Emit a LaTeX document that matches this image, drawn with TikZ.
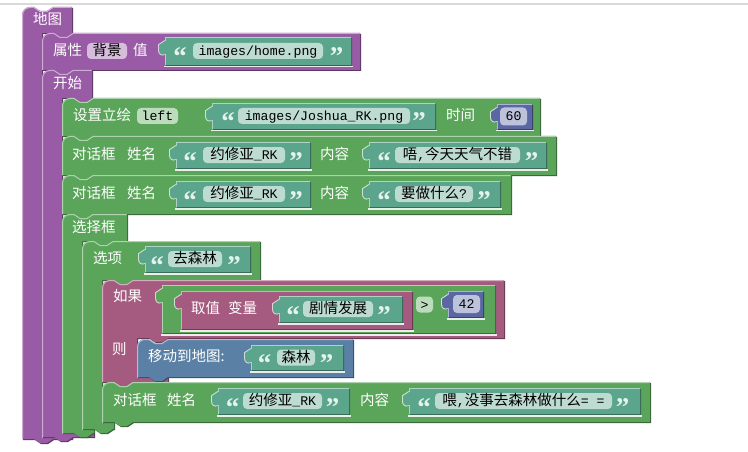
\documentclass[tikz,border=0pt]{standalone}
\usepackage{fontspec}
\setmainfont{Noto Sans CJK SC}
\newfontfamily\mono{Liberation Mono}
\newfontfamily\qf{Liberation Serif}
\newcommand\monot[1]{{\mono\fontsize{13.2}{16}\selectfont #1}}
\definecolor{pu}{HTML}{995BA5}
\definecolor{gr}{HTML}{5BA55B}
\definecolor{te}{HTML}{5BA58C}
\definecolor{ma}{HTML}{A55B80}
\definecolor{bl}{HTML}{5B80A5}
\definecolor{nb}{HTML}{5B67A5}
\definecolor{qc}{HTML}{E4F2EC}
% statement block: x y right bottom style
\newcommand\SBpath[5]{\path[#5] (#1,#2+8) .. controls (#1,#2+3.6) and (#1+3.6,#2) .. (#1+8,#2) -- (#1+12,#2) -- (#1+18,#2+4) -- (#1+25,#2+4) -- (#1+31,#2) -- (#3,#2) -- (#3,#4) -- (#1+31,#4) -- (#1+25,#4+4) -- (#1+18,#4+4) -- (#1+12,#4) -- (#1,#4) -- cycle;}
\newcommand\SB[5]{%
  \SBpath{#1}{#2}{#3}{#4}{fill=#5!60!black,shift={(1,1)}}%
  \SBpath{#1}{#2}{#3}{#4}{fill=#5}%
  \draw[#5!50!white,line width=1pt] (#1+.5,#4) -- (#1+.5,#2+8) .. controls (#1+.5,#2+3.9) and (#1+3.9,#2+.5) .. (#1+8,#2+.5) -- (#1+12,#2+.5) -- (#1+18,#2+4.5) -- (#1+25,#2+4.5) -- (#1+31,#2+.5) -- (#3-.5,#2+.5);}
% C block: x y headright headbottom armwidth innerbottom bottomright bottom style
\newcommand\CBpath[9]{\path[#9] (#1,#2+8) .. controls (#1,#2+3.6) and (#1+3.6,#2) .. (#1+8,#2) -- (#1+12,#2) -- (#1+18,#2+4) -- (#1+25,#2+4) -- (#1+31,#2) -- (#3,#2) -- (#3,#4) -- (#1+#5+31,#4) -- (#1+#5+25,#4+4) -- (#1+#5+18,#4+4) -- (#1+#5+12,#4) -- (#1+#5,#4) -- (#1+#5,#6) -- (#7,#6) -- (#7,#8) -- (#1+31,#8) -- (#1+25,#8+4) -- (#1+18,#8+4) -- (#1+12,#8) -- (#1,#8) -- cycle;}
\newcommand\CB[9]{%
  \CBpath{#1}{#2}{#3}{#4}{#5}{#6}{#7}{#8}{fill=#9!60!black,shift={(1,1)}}%
  \CBpath{#1}{#2}{#3}{#4}{#5}{#6}{#7}{#8}{fill=#9}%
  \draw[#9!50!white,line width=1pt] (#1+.5,#8) -- (#1+.5,#2+8) .. controls (#1+.5,#2+3.9) and (#1+3.9,#2+.5) .. (#1+8,#2+.5) -- (#1+12,#2+.5) -- (#1+18,#2+4.5) -- (#1+25,#2+4.5) -- (#1+31,#2+.5) -- (#3-.5,#2+.5);%
  \draw[#9!50!white,line width=1pt] (#1+#5,#6+.5) -- (#7-.5,#6+.5);}
% value block: x y right bottom colour parentcolour
\newcommand\VBpath[5]{\path[#5] (#1,#2) -- (#3,#2) -- (#3,#4) -- (#1,#4) -- (#1,#2+17) .. controls (#1-3,#2+18.5) and (#1-6,#2+17) .. (#1-6,#2+13) -- (#1-6,#2+8) -- (#1,#2+4) -- cycle;}
\newcommand\VB[6]{%
  \VBpath{#1}{#2}{#3}{#4}{fill=#5!60!black,shift={(1,1)}}%
  \draw[white!70!#6,line width=2pt] (#1,#2+17) .. controls (#1-3,#2+18.5) and (#1-6,#2+17) .. (#1-6,#2+13) -- (#1-6,#2+8) -- (#1,#2+4);%
  \draw[white!85!#6,line width=1.5pt] (#1-1,#4+1.75) -- (#3+1.5,#4+1.75);%
  \VBpath{#1}{#2}{#3}{#4}{fill=#5}%
  \draw[#5!50!white,line width=1pt] (#1+.5,#2+4) -- (#1+.5,#2+.5) -- (#3-.5,#2+.5);%
  \draw[#5!50!white,line width=1pt] (#1+.5,#2+17) -- (#1+.5,#4);}
\begin{document}
\begin{tikzpicture}[x=1pt,y=-1pt,
  lbl/.style={anchor=west,inner sep=0pt,text=white,font=\fontsize{14.5}{16}\selectfont,text height=11pt,text depth=2pt},
  pill/.style={fill=white,fill opacity=0.6,text opacity=1,rounded corners=4pt,inner sep=0pt,minimum height=16pt,text=black,font=\fontsize{14.5}{16}\selectfont,text height=11pt,text depth=2pt},
  qt/.style={anchor=base,inner sep=0pt,text=qc,yshift=-15pt,font=\qf\bfseries\fontsize{27}{27}\selectfont}]
\fill[white] (0,0) rectangle (748,452);
\useasboundingbox (0,0) rectangle (748,452);
\draw[black!15,line width=1.2pt] (0,4) -- (748,4);

% 地图
\CB{22}{7}{72}{33}{20}{437}{72}{439}{pu}
\node[lbl] (ditu) at (33,20) {地图};

% 属性
\SB{42}{33}{360}{70}{pu}
\node[lbl] (shuxing) at (53,51) {属性};
\node[pill,minimum width=40pt] (beijing) at (107,51) {背景};
\node[lbl] (zhi) at (133,51) {值};
\VB{165}{37}{351}{65}{te}{pu}
\node[qt] (q1a) at (180,51) {“};
\node[pill,minimum width=130pt] (home) at (258,51) {\monot{images/home.png}};
\node[qt] (q1b) at (336.5,51) {”};

% 开始
\CB{42}{70}{92}{98}{20}{433}{94}{437}{pu}
\node[lbl] (kaishi) at (53,84) {开始};

% 设置立绘
\SB{62}{98}{540}{136}{gr}
\node[lbl] (lihui) at (73,116) {设置立绘};
\node[pill,minimum width=41pt] (left) at (157.5,116) {\monot{left}};
\VB{212}{103}{435}{129}{te}{gr}
\node[qt] (q2a) at (228,116) {“};
\node[pill,minimum width=172pt] (joshua) at (324,116) {\monot{images/Joshua\_RK.png}};
\node[qt] (q2b) at (419,116) {”};
\node[lbl] (shijian) at (446,116) {时间};
\VB{497}{104}{532}{129}{nb}{gr}
\node[pill,minimum width=27pt,minimum height=18pt] (n60) at (513.5,116.5) {\monot{60}};

% 对话框 1
\SB{62}{136}{556}{175}{gr}
\node[lbl] (dlg1) at (72,155) {对话框};
\node[lbl] (name1) at (127,155) {姓名};
\VB{176}{142}{310}{168}{te}{gr}
\node[qt] (q3a) at (190,155) {“};
\node[pill,minimum width=82pt] (yxy1) at (244,155) {约修亚\monot{\_RK}};
\node[qt] (q3b) at (296,155) {”};
\node[lbl] (nr1) at (320,155) {内容};
\VB{369}{142}{546}{168}{te}{gr}
\node[qt] (q4a) at (384,155) {“};
\node[pill,minimum width=125pt] (wu) at (457.5,155) {唔\monot{,}今天天气不错};
\node[qt] (q4b) at (531.5,155) {”};

% 对话框 2
\SB{62}{175}{511}{214}{gr}
\node[lbl] (dlg2) at (72,194) {对话框};
\node[lbl] (name2) at (127,194) {姓名};
\VB{176}{181}{310}{207}{te}{gr}
\node[qt] (q5a) at (190,194) {“};
\node[pill,minimum width=82pt] (yxy2) at (244,194) {约修亚\monot{\_RK}};
\node[qt] (q5b) at (296,194) {”};
\node[lbl] (nr2) at (320,194) {内容};
\VB{369}{181}{500}{207}{te}{gr}
\node[qt] (q6a) at (384,194) {“};
\node[pill,minimum width=78pt] (yzsm) at (434,194) {要做什么\monot{?}};
\node[qt] (q6b) at (484,194) {”};

% 选择框
\CB{62}{214}{127}{241}{20}{429}{94}{433}{gr}
\node[lbl] (xzk) at (72,228) {选择框};

% 选项
\CB{82}{241}{260}{280}{20}{422}{114}{429}{gr}
\node[lbl] (xx) at (93,259) {选项};
\VB{145}{246}{250}{272}{te}{gr}
\node[qt] (q7a) at (157,259) {“};
\node[pill,minimum width=54pt] (qsl) at (195,259) {去森林};
\node[qt] (q7b) at (234,259) {”};

% 如果
\CB{102}{280}{504}{338}{35}{377}{168}{382}{ma}
\node[lbl] (rg) at (113,297) {如果};
\node[lbl] (ze) at (112,350) {则};
\VB{162}{285}{495}{333}{gr}{ma}
\VB{181}{291}{412}{329}{ma}{gr}
\node[lbl] (qz) at (191,309) {取值};
\node[lbl] (bl) at (228,309) {变量};
\VB{279}{296}{402}{322}{te}{ma}
\node[qt] (q8a) at (293,309) {“};
\node[pill,minimum width=70pt] (jqfz) at (338,309) {剧情发展};
\node[qt] (q8b) at (384,309) {”};
\node[pill,minimum width=17pt] (gt) at (424.5,304.5) {\monot{>}};
\VB{448}{291}{483}{317}{nb}{gr}
\node[pill,minimum width=27pt,minimum height=18pt] (n42) at (466.5,304) {\monot{42}};

% 移动到地图
\SB{137}{339}{353}{377}{bl}
\node[lbl] (ydd) at (148,357) {移动到地图:};
\VB{251}{345}{343}{370}{te}{bl}
\node[qt] (q9a) at (264.5,357.5) {“};
\node[pill,minimum width=38pt] (sl) at (296,357.5) {森林};
\node[qt] (q9b) at (326.5,357.5) {”};

% 对话框 3
\SB{102}{382}{650}{422}{gr}
\node[lbl] (dlg3) at (113,401) {对话框};
\node[lbl] (name3) at (167,401) {姓名};
\VB{218}{388}{349}{414}{te}{gr}
\node[qt] (q10a) at (232.5,401) {“};
\node[pill,minimum width=79pt] (yxy3) at (282.5,401) {约修亚\monot{\_RK}};
\node[qt] (q10b) at (332.5,401) {”};
\node[lbl] (nr3) at (360,401) {内容};
\VB{409}{388}{640}{414}{te}{gr}
\node[qt] (q11a) at (424,401) {“};
\node[pill,minimum width=177pt] (wei) at (523.5,401) {喂\monot{,}没事去森林做什么\monot{= =}};
\node[qt] (q11b) at (622.5,401) {”};
\end{tikzpicture}
\end{document}
